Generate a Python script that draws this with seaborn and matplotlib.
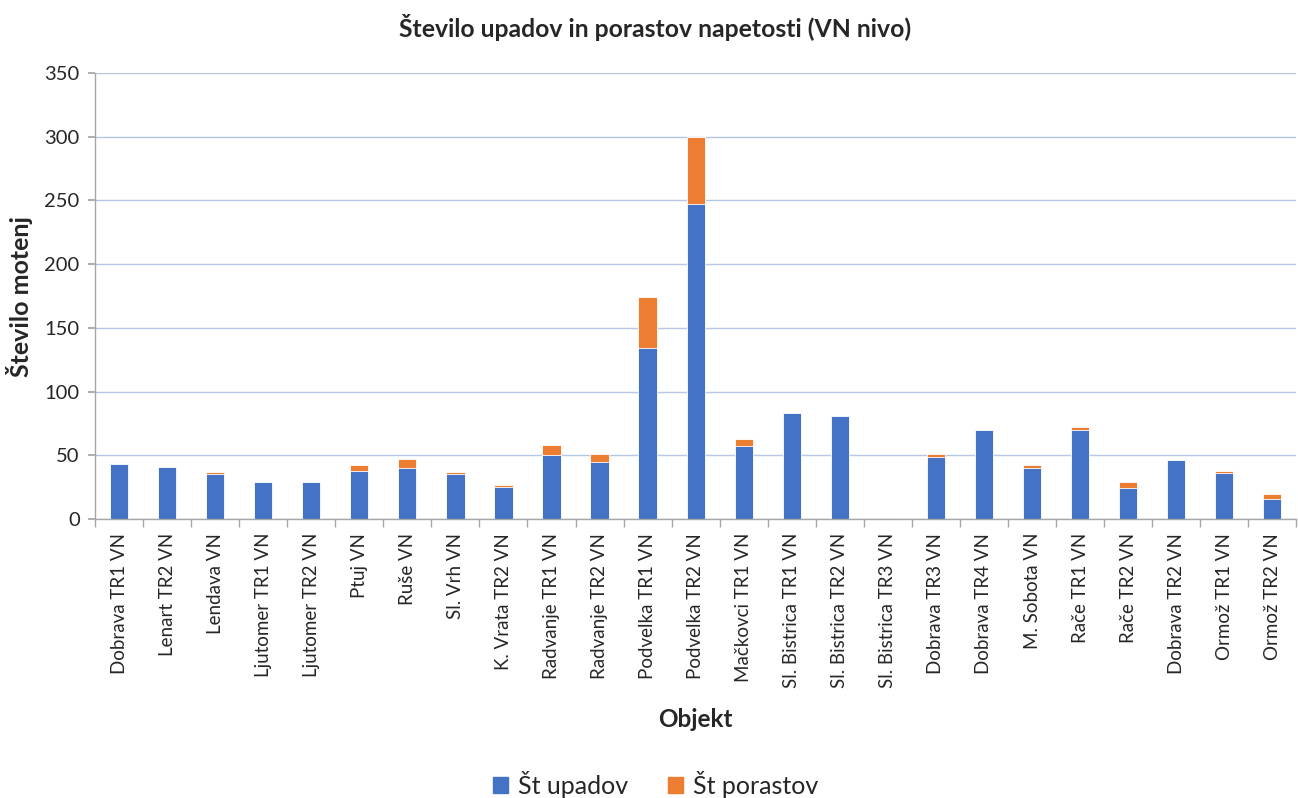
import matplotlib

matplotlib.use("Agg")

import matplotlib.pyplot as plt
import numpy as np
import pandas as pd
import seaborn as sns
from matplotlib.patches import Patch
from matplotlib.ticker import FixedLocator, MultipleLocator

objekti = [
	"Dobrava TR1 VN", "Lenart TR2 VN", "Lendava VN", "Ljutomer TR1 VN",
	"Ljutomer TR2 VN", "Ptuj VN", "Ruše VN", "Sl. Vrh VN", "K. Vrata TR2 VN",
	"Radvanje TR1 VN", "Radvanje TR2 VN", "Podvelka TR1 VN", "Podvelka TR2 VN",
	"Mačkovci TR1 VN", "Sl. Bistrica TR1 VN", "Sl. Bistrica TR2 VN",
	"Sl. Bistrica TR3 VN", "Dobrava TR3 VN", "Dobrava TR4 VN", "M. Sobota VN",
	"Rače TR1 VN", "Rače TR2 VN", "Dobrava TR2 VN", "Ormož TR1 VN", "Ormož TR2 VN",
]
upadi = [43, 41, 35, 29, 29, 38, 40, 35, 25, 50, 45, 134, 247, 57, 83, 81, 1, 49, 70, 40, 70, 24, 46, 36, 16]
porasti = [0, 0, 2, 0, 0, 4, 7, 2, 2, 8, 6, 40, 53, 6, 0, 0, 0, 2, 0, 2, 2, 5, 0, 2, 4]

blue = "#4472C4"
orange = "#ED7D31"

sns.set_theme(style="white")
plt.rcParams["font.family"] = ["Lato", "DejaVu Sans"]

df = pd.DataFrame({"objekt": objekti, "upadi": upadi, "porasti": porasti})
df["skupaj"] = df["upadi"] + df["porasti"]

fig = plt.figure(figsize=(12.98, 7.98), dpi=100)
ax = fig.add_axes([0.0732, 0.3496, 0.9255, 0.5589])

# orange total first, blue upadi on top -> stacked look
sns.barplot(data=df, x="objekt", y="skupaj", color=orange, width=0.38,
	edgecolor="white", linewidth=0.6, saturation=1, ax=ax)
sns.barplot(data=df, x="objekt", y="upadi", color=blue, width=0.38,
	edgecolor="white", linewidth=0.6, saturation=1, ax=ax)

ax.set_ylim(0, 350)
ax.set_xlim(-0.5, len(objekti) - 0.5)
ax.yaxis.set_major_locator(MultipleLocator(50))
ax.grid(axis="y", color="#b4c7e7", linewidth=1.0)
ax.set_axisbelow(True)

for side in ["top", "right"]:
	ax.spines[side].set_visible(False)
for side in ["left", "bottom"]:
	ax.spines[side].set_color("#a6a6a6")
	ax.spines[side].set_linewidth(1.0)

ax.tick_params(axis="x", which="major", length=0, labelsize=13.5, rotation=90, pad=10)
ax.xaxis.set_minor_locator(FixedLocator(np.arange(-0.5, len(objekti), 1.0)))
ax.tick_params(axis="x", which="minor", length=6, color="#a6a6a6", width=1.0, bottom=True)
ax.tick_params(axis="y", which="major", left=True, length=5, color="#a6a6a6", labelsize=14.5, pad=6)

ax.set_xlabel("Objekt", fontsize=17.5, fontweight="bold", labelpad=14)
ax.set_ylabel("Število motenj", fontsize=18, fontweight="bold", labelpad=8)
fig.suptitle("Število upadov in porastov napetosti (VN nivo)", fontsize=17.8, fontweight="bold",
	x=0.505, y=0.965, va="center")

fig.legend(
	handles=[Patch(color=blue, label="Št upadov"), Patch(color=orange, label="Št porastov")],
	loc="lower center", bbox_to_anchor=(0.505, -0.028), ncol=2, frameon=False,
	fontsize=18, handlelength=0.6, handleheight=0.6, columnspacing=1.6, handletextpad=0.4,
)

fig.savefig("out.png", dpi=100, facecolor="white")
plt.close(fig)
